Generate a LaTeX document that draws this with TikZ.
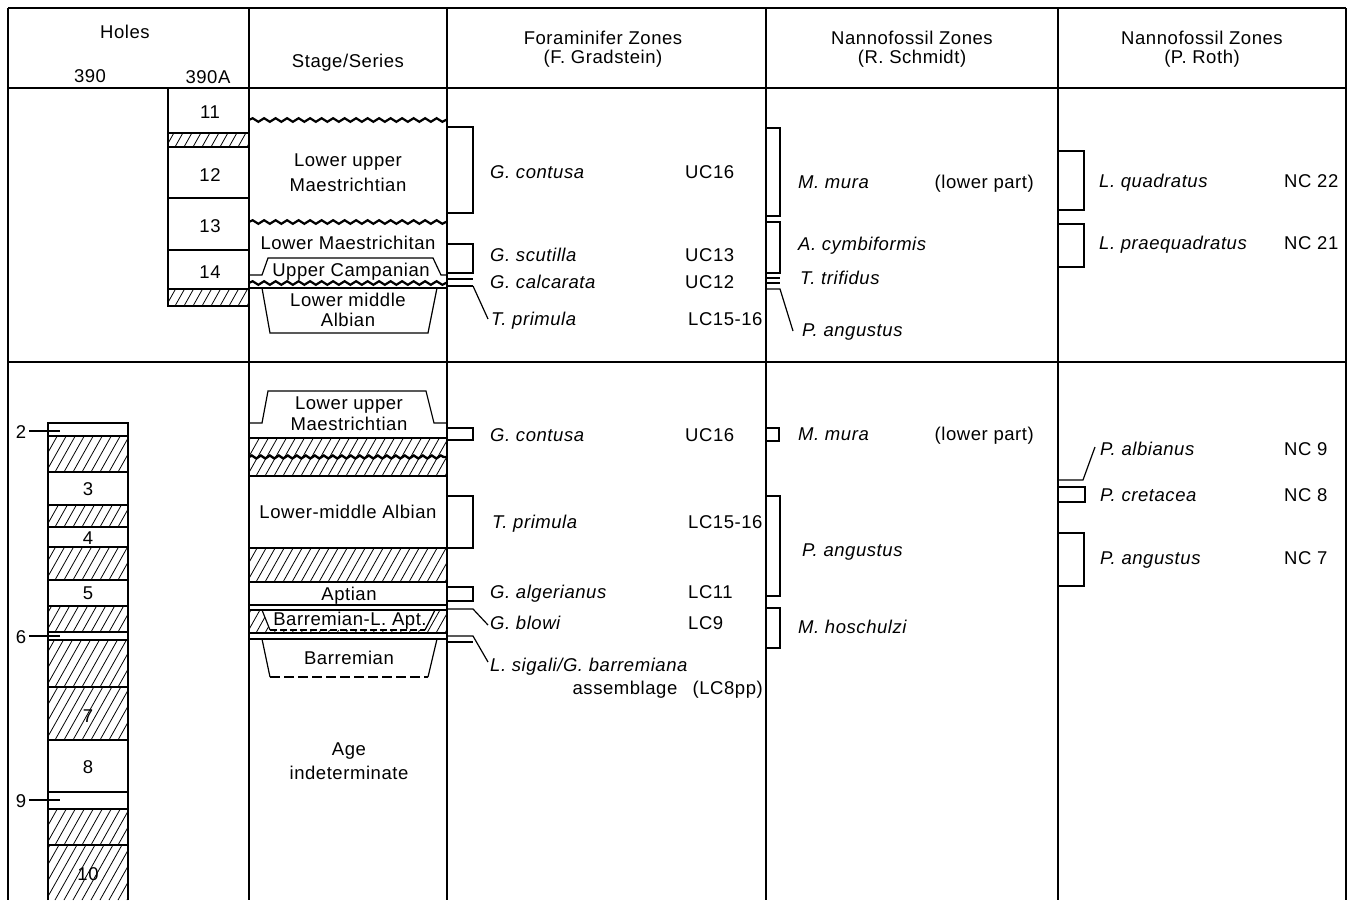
\documentclass[tikz,border=0pt]{standalone}
\usepackage{fontspec}
\setmainfont{Liberation Sans}[LetterSpace=3]
\usetikzlibrary{decorations.pathmorphing}
\newcommand{\hatchbox}[4]{%
  \begin{scope}
    \clip (#1,#2) rectangle (#3,#4);
    \pgfmathsetmacro\hA{#1-38}\pgfmathsetmacro\hB{#1-29}\pgfmathsetmacro\hC{#3+4}
    \foreach \k in {\hA,\hB,...,\hC} {\draw[hatchline] (\k,#4) -- ++(36,-64);}
  \end{scope}}
\begin{document}
\begin{tikzpicture}[x=1pt,y=-1pt,
  every node/.style={inner sep=0pt, font=\fontsize{18.5}{20}\selectfont},
  t/.style={anchor=base},
  sp/.style={anchor=base west, font=\fontsize{18.5}{20}\selectfont\itshape},
  zn/.style={anchor=base west},
  zr/.style={anchor=base east},
  frame/.style={line width=1.5pt},
  ln/.style={line width=1.2pt},
  hatchline/.style={line width=0.8pt},
  wavy/.style={line width=2.2pt, decorate, decoration={snake, segment length=11.5pt, amplitude=1.8pt}},
  wavyb/.style={line width=2.4pt, decorate, decoration={snake, segment length=9pt, amplitude=1.5pt}},
]
\useasboundingbox (0,0) rectangle (1351,900);
\fill[white] (0,0) rectangle (1351,900);

% ---------- hatching ----------
\hatchbox{168}{133}{249}{147}
\hatchbox{168}{289}{249}{306}
\hatchbox{48}{436}{128}{472}
\hatchbox{48}{505}{128}{527}
\hatchbox{48}{547}{128}{580}
\hatchbox{48}{606}{128}{632}
\hatchbox{48}{640}{128}{687}
\hatchbox{48}{687}{128}{740}
\hatchbox{48}{809}{128}{845}
\hatchbox{48}{845}{128}{900}
\hatchbox{249}{438}{447}{476}
\hatchbox{249}{548}{447}{582}
\hatchbox{249}{610}{447}{633}
\fill[white] (262,610) -- (435,610) -- (425,630) -- (270,630) -- cycle;

% ---------- frame ----------
\draw[frame] (8,8) -- (1346,8);
\draw[frame] (8,8) -- (8,900);
\draw[frame] (1346,8) -- (1346,900);
\draw[frame] (8,88) -- (1346,88);
\draw[frame] (8,362) -- (1346,362);
\draw[frame] (249,8) -- (249,900);
\draw[frame] (447,8) -- (447,900);
\draw[frame] (766,8) -- (766,900);
\draw[frame] (1058,8) -- (1058,900);

% ---------- header ----------
\node[t] (hHoles) at (125,38) {Holes};
\node[t] (h390) at (90,82) {390};
\node[t] (h390A) at (208,83) {390A};
\node[t] (hStage) at (348,67) {Stage/Series};
\node[t] (hForam) at (603,44) {Foraminifer Zones};
\node[t] (hForamB) at (603,63) {(F. Gradstein)};
\node[t] (hSch) at (912,44) {Nannofossil Zones};
\node[t] (hSchB) at (912,63) {(R. Schmidt)};
\node[t] (hRoth) at (1202,44) {Nannofossil Zones};
\node[t] (hRothB) at (1202,63) {(P. Roth)};

% ---------- top section: hole 390A ----------
\draw[ln] (168,88) -- (168,306) -- (249,306);
\foreach \yy in {133,147,198,250,289} {\draw[ln] (168,\yy) -- (249,\yy);}
\node[t] (c11) at (210,118) {11};
\node[t] (c12) at (210,181) {12};
\node[t] (c13) at (210,232) {13};
\node[t] (c14) at (210,278) {14};

% ---------- top section: stage ----------
\draw[wavy] (249,120) -- (447,120);
\node[t] (s1a) at (348,166) {Lower upper};
\node[t] (s1b) at (348,191) {Maestrichtian};
\draw[wavy] (249,222) -- (447,222);
\node[t] (s2) at (348,249) {Lower Maestrichitan};
\draw[ln] (249,275) -- (262,275) -- (268,258) -- (433,258) -- (441,275) -- (447,275);
\node[t] (s3) at (351,276) {Upper Campanian};
\draw[wavy] (249,283) -- (447,283);
\draw[ln] (249,288) -- (447,288);
\draw[ln] (262,288) -- (270,333) -- (428,333) -- (437,288);
\node[t] (s4a) at (348,306) {Lower middle};
\node[t] (s4b) at (348,326) {Albian};

% ---------- top section: foraminifers ----------
\draw[ln] (447,127) -| (473,213) -- (447,213);
\node[sp] (f1) at (490,178) {G. contusa};
\node[zn] (f1z) at (685,178) {UC16};
\draw[ln] (447,244) -| (473,273) -- (447,273);
\node[sp] (f2) at (490,261) {G. scutilla};
\node[zn] (f2z) at (685,261) {UC13};
\draw[ln] (447,279) -- (473,279);
\draw[ln] (447,286) -- (473,286);
\node[sp] (f3) at (490,288) {G. calcarata};
\node[zn] (f3z) at (685,288) {UC12};
\coordinate (f4p) at (488,319);
\draw[ln] (473,286) -- (f4p);
\node[sp] (f4) at (491,325) {T. primula};
\node[zn] (f4z) at (688,325) {LC15-16};

% ---------- top section: Schmidt ----------
\draw[ln] (766,128) -| (780,216) -- (766,216);
\node[sp] (n1) at (798,188) {M. mura};
\node[zr] (n1r) at (1034,188) {(lower part)};
\draw[ln] (766,222) -| (780,273) -- (766,273);
\node[sp] (n2) at (798,250) {A. cymbiformis};
\draw[ln] (766,278) -- (780,278);
\draw[ln] (766,283) -- (780,283);
\node[sp] (n3) at (800,284) {T. trifidus};
\coordinate (n4p) at (793,331);
\draw[ln] (766,289) -- (780,289) -- (n4p);
\node[sp] (n4) at (802,336) {P. angustus};

% ---------- top section: Roth ----------
\draw[ln] (1058,151) -| (1084,210) -- (1058,210);
\node[sp] (r1) at (1099,187) {L. quadratus};
\node[zn] (r1z) at (1284,187) {NC 22};
\draw[ln] (1058,224) -| (1084,267) -- (1058,267);
\node[sp] (r2) at (1099,249) {L. praequadratus};
\node[zn] (r2z) at (1284,249) {NC 21};

% ---------- bottom section: hole 390 ----------
\draw[ln] (48,900) -- (48,423) -- (128,423) -- (128,900);
\foreach \yy in {436,472,505,527,547,580,606,632,640,687,740,792,809,845} {\draw[ln] (48,\yy) -- (128,\yy);}
\node[t] (b2) at (21,438) {2};
\draw[ln] (b2.east |- 0,431) ++(3,0) -- (60,431);
\node[t] (b3) at (88,495) {3};
\node[t] (b4) at (88,544) {4};
\node[t] (b5) at (88,599) {5};
\node[t] (b6) at (21,643) {6};
\draw[ln] (b6.east |- 0,636) ++(3,0) -- (60,636);
\node[t] (b7) at (88,722) {7};
\node[t] (b8) at (88,773) {8};
\node[t] (b9) at (21,807) {9};
\draw[ln] (b9.east |- 0,800) ++(3,0) -- (60,800);
\node[t] (b10) at (88,880) {10};

% ---------- bottom section: stage ----------
\draw[ln] (249,423) -- (262,423) -- (268,391) -- (426,391) -- (434,423) -- (447,423);
\node[t] (t1a) at (349,409) {Lower upper};
\node[t] (t1b) at (349,430) {Maestrichtian};
\draw[ln] (249,438) -- (447,438);
\draw[ln] (249,476) -- (447,476);
\draw[wavyb] (249,457) -- (447,457);
\node[t] (t2) at (348,518) {Lower-middle Albian};
\draw[ln] (249,548) -- (447,548);
\draw[ln] (249,582) -- (447,582);
\node[t] (t3) at (349,600) {Aptian};
\draw[ln] (249,605) -- (447,605);
\draw[ln] (249,610) -- (447,610);
\draw[ln] (262,610) -- (270,630);
\draw[ln] (435,610) -- (425,630);
\draw[ln, dash pattern=on 7pt off 3pt] (270,630) -- (425,630);
\draw[ln] (249,633) -- (447,633);
\node[t] (t4) at (350,625) {Barremian-L. Apt.};
\draw[ln] (249,639) -- (447,639);
\draw[ln] (262,639) -- (270,677);
\draw[ln] (437,639) -- (428,677);
\draw[ln, dash pattern=on 10pt off 4pt] (270,677) -- (428,677);
\node[t] (t5) at (349,664) {Barremian};
\node[t] (t6a) at (349,755) {Age};
\node[t] (t6b) at (349,779) {indeterminate};

% ---------- bottom section: foraminifers ----------
\draw[ln] (447,428) -| (473,440) -- (447,440);
\node[sp] (g1) at (490,441) {G. contusa};
\node[zn] (g1z) at (685,441) {UC16};
\draw[ln] (447,496) -| (473,548) -- (447,548);
\node[sp] (g2) at (492,528) {T. primula};
\node[zn] (g2z) at (688,528) {LC15-16};
\draw[ln] (447,587) -| (473,601) -- (447,601);
\node[sp] (g3) at (490,598) {G. algerianus};
\node[zn] (g3z) at (688,598) {LC11};
\coordinate (g4p) at (488,625);
\draw[ln] (447,609) -- (473,609) -- (g4p);
\node[sp] (g4) at (490,629) {G. blowi};
\node[zn] (g4z) at (688,629) {LC9};
\coordinate (g5p) at (488,662);
\draw[ln] (447,636) -- (473,636) -- (g5p);
\draw[ln] (447,642) -- (473,642);
\node[sp] (g5) at (490,671) {L. sigali/G. barremiana};
\node[t] (g5b) at (625,694) {assemblage};
\node[zr] (g5z) at (763,694) {(LC8pp)};

% ---------- bottom section: Schmidt ----------
\draw[ln] (766,428) -| (779,441) -- (766,441);
\node[sp] (m1) at (798,440) {M. mura};
\node[zr] (m1r) at (1034,440) {(lower part)};
\draw[ln] (766,496) -| (780,596) -- (766,596);
\node[sp] (m2) at (802,556) {P. angustus};
\draw[ln] (766,608) -| (780,648) -- (766,648);
\node[sp] (m3) at (798,633) {M. hoschulzi};

% ---------- bottom section: Roth ----------
\coordinate (p1p) at (1095,447);
\draw[ln] (1058,480) -- (1083,480) -- (p1p);
\node[sp] (p1) at (1100,455) {P. albianus};
\node[zn] (p1z) at (1284,455) {NC 9};
\draw[ln] (1058,487) -| (1085,502) -- (1058,502);
\node[sp] (p2) at (1100,501) {P. cretacea};
\node[zn] (p2z) at (1284,501) {NC 8};
\draw[ln] (1058,533) -| (1084,586) -- (1058,586);
\node[sp] (p3) at (1100,564) {P. angustus};
\node[zn] (p3z) at (1284,564) {NC 7};
\end{tikzpicture}
\end{document}
